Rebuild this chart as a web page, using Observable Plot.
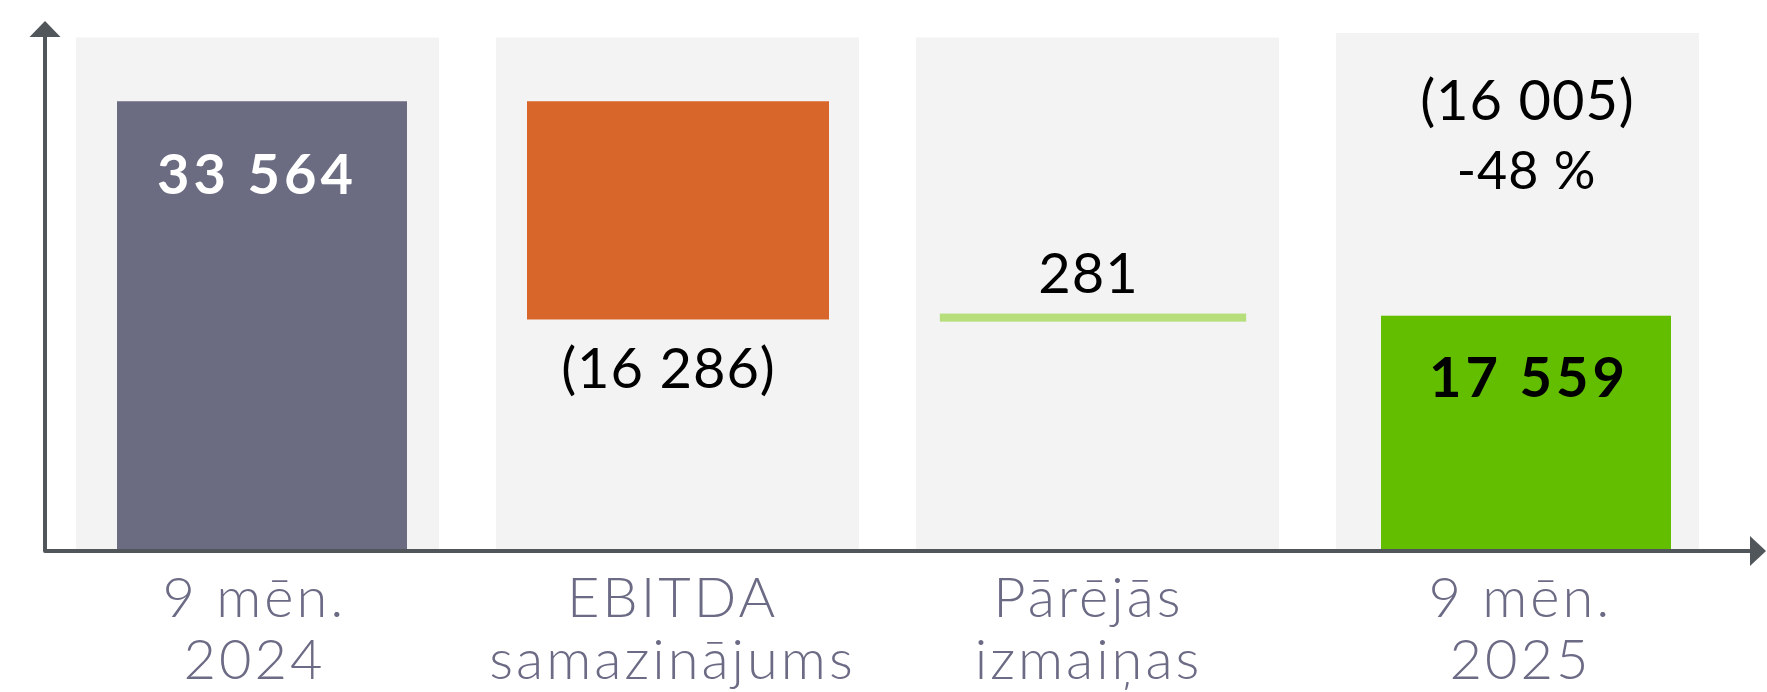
<!DOCTYPE html>
<html>
<head>
<meta charset="utf-8">
<script src="https://cdn.jsdelivr.net/npm/d3@7"></script>
<script src="https://cdn.jsdelivr.net/npm/@observablehq/plot@0.6"></script>
<style>
  html, body { margin: 0; padding: 0; background: #ffffff; }
  #chart svg { display: block; }
</style>
</head>
<body>
<div id="chart"></div>
<script>
// ---- data ----
const categories = ["9 mēn.\n2024", "EBITDA\nsamazinājums", "Pārējās\nizmaiņas", "9 mēn.\n2025"];
const values = [33564, -16286, 281, 17559];
const kinds = ["total", "delta", "delta", "total"];
const valueLabels = ["33 564", "(16 286)", "281", "17 559"];
const changeLabels = ["(16 005)", "-48 %"];

// ---- styles ----
const palette = ["#6b6b82", "#d8662b", "#b6de7b", "#63be00"];
const panelColor = "#f2f3f2";
const axisColor = "#50565a";
const labelColor = "#6c6b85";
const yMax = 41120;

// waterfall rows built from the arrays
let running = 0;
const rows = categories.map((c, i) => {
  const v = values[i];
  let y1, y2;
  if (kinds[i] === "total") { y1 = 0; y2 = v; running = v; }
  else { y1 = running; y2 = running + v; running += v; }
  return {cat: c, y1, y2, label: valueLabels[i], lo: Math.min(y1, y2), hi: Math.max(y1, y2)};
});

const barInsets = [[41, 32], [31, 30], [26, 35], [45, 28]];
const catDx = [-3.5, -5.5, -9.5, 2.5];

const marks = [];
// background panels
marks.push(Plot.barY(rows.slice(0, 3), {x: "cat", y1: 0, y2: yMax, fill: panelColor, insetTop: 37.5}));
marks.push(Plot.barY(rows.slice(3), {x: "cat", y1: 0, y2: yMax, fill: panelColor, insetTop: 33}));
// bars
rows.forEach((r, i) => {
  const thin = kinds[i] === "delta" && Math.abs(values[i]) < 1000;
  marks.push(Plot.barY([r], {
    x: "cat", y1: "y1", y2: "y2", fill: palette[i],
    stroke: thin ? palette[i] : null, strokeWidth: thin ? 4.3 : null,
    insetLeft: barInsets[i][0], insetRight: barInsets[i][1]
  }));
});
// value labels
marks.push(Plot.text([rows[0]], {x: "cat", y: "hi", text: "label", lineAnchor: "bottom", dy: 92, dx: -1, fontSize: 56, fontWeight: 700, fill: "#ffffff"}));
marks.push(Plot.text([rows[1]], {x: "cat", y: "lo", text: "label", lineAnchor: "bottom", dy: 68, dx: -9.5, fontSize: 56, fill: "#000000"}));
marks.push(Plot.text([rows[2]], {x: "cat", y: "hi", text: "label", lineAnchor: "bottom", dy: -23, dx: -9.5, fontSize: 56, fill: "#000000"}));
marks.push(Plot.text([rows[3]], {x: "cat", y: "hi", text: "label", lineAnchor: "bottom", dy: 81, dx: 11, fontSize: 56, fontWeight: 700, fill: "#000000"}));
// change labels above last bar
marks.push(Plot.text([changeLabels[0]], {x: () => categories[3], frameAnchor: "top", text: d => d, lineAnchor: "bottom", dy: 119, dx: 9.5, fontSize: 56, fill: "#000000"}));
marks.push(Plot.text([changeLabels[1]], {x: () => categories[3], frameAnchor: "top", text: d => d, lineAnchor: "bottom", dy: 188, dx: 8.5, fontSize: 52, fill: "#000000"}));
// category labels
categories.forEach((c, i) => {
  marks.push(Plot.text([c], {x: d => d, frameAnchor: "bottom", text: d => d, lineAnchor: "bottom", dy: 127, dx: catDx[i], fontSize: 56, fontWeight: 300, lineHeight: 1.09, fill: labelColor}));
});

const W = 1767, H = 692, mL = 75, mR = 67, mT = 0, mB = 141;
const plot = Plot.plot({
  width: W, height: H,
  marginLeft: mL, marginRight: mR, marginTop: mT, marginBottom: mB,
  style: {fontFamily: "Lato, 'Open Sans', sans-serif", background: "#ffffff", overflow: "visible"},
  x: {type: "band", domain: categories, paddingInner: 0.136, paddingOuter: 0, axis: null},
  y: {domain: [0, yMax], axis: null},
  marks
});

// letter spacing per text group (in mark order)
const svg = d3.select(plot);
const spacing = [4, 1, 1, 4, 1, 1, 3, 3, 3, 3];
svg.selectAll('g[aria-label="text"]').each(function(_, i) {
  d3.select(this).style("letter-spacing", spacing[i] + "px");
});

// axis lines with arrowheads, positioned from the plot's scales
const y0 = plot.scale("y").apply(0);
const ax = mL - 30;
const g = svg.append("g");
g.append("path")
  .attr("d", `M${ax},37V${y0}H${W - 16}`)
  .attr("fill", "none").attr("stroke", axisColor).attr("stroke-width", 4)
  .attr("stroke-linejoin", "round");
g.append("path")
  .attr("d", `M${W - 1},${y0}L${W - 17},${y0 - 15}L${W - 17},${y0 + 15}Z`)
  .attr("fill", axisColor);
g.append("path")
  .attr("d", `M${ax},${21}L${ax - 15.5},${37}L${ax + 15.5},${37}Z`)
  .attr("fill", axisColor);

document.getElementById("chart").appendChild(plot);
</script>
</body>
</html>
